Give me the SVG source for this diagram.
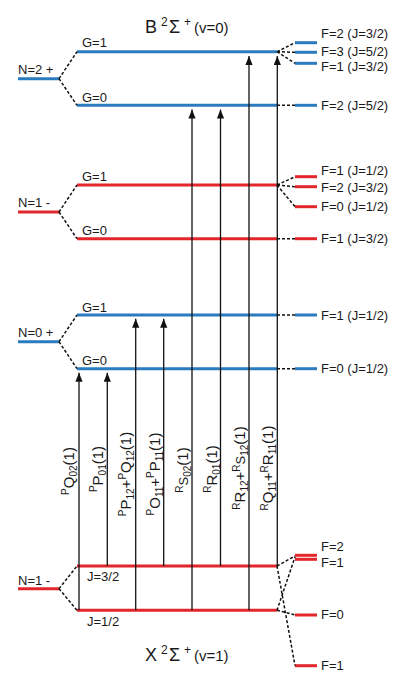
<svg xmlns="http://www.w3.org/2000/svg" width="415" height="686" viewBox="0 0 415 686">
<style>
text{font-family:"Liberation Sans",Arial,sans-serif;fill:#1a1a1a;}
.lb{font-size:13px;}
.tl{font-size:15px;}
.sm{font-size:10px;}
.blue{stroke:#2b7bbf;stroke-width:3;fill:none;}
.red{stroke:#e2262b;stroke-width:3;fill:none;}
.dash{stroke:#111;stroke-width:1.5;stroke-dasharray:3,2;fill:none;}
.arr{stroke:#111;stroke-width:1.3;fill:none;marker-end:url(#ah);}
</style>
<defs>
<marker id="ah" markerUnits="userSpaceOnUse" markerWidth="10" markerHeight="10" refX="9" refY="3.6" orient="auto">
<path d="M0,0 L9,3.6 L0,7.2 z" fill="#111"/>
</marker>
</defs>
<rect width="415" height="686" fill="#fff"/>

<!-- titles -->
<g id="title-B">
<text x="145" y="33.3" style="font-size:18px">B</text>
<text x="161" y="26" style="font-size:12px">2</text>
<text x="169" y="33.3" style="font-size:18px">Σ</text>
<text x="184" y="26" style="font-size:12px">+</text>
<text x="194" y="33.3" style="font-size:15px">(v=0)</text>
</g>
<g id="title-X">
<text x="145" y="661" style="font-size:18px">X</text>
<text x="161" y="653.7" style="font-size:12px">2</text>
<text x="169" y="661" style="font-size:18px">Σ</text>
<text x="184" y="653.7" style="font-size:12px">+</text>
<text x="194" y="661" style="font-size:15px">(v=1)</text>
</g>

<!-- B state N=2 + -->
<g id="N2">
<line class="blue" x1="18" y1="78.7" x2="59" y2="78.7"/>
<text class="lb" x="18" y="74">N=2 +</text>
</g>
<g id="N2G1">
<line class="blue" x1="77" y1="51.7" x2="277" y2="51.7"/>
<text class="lb" x="82" y="47">G=1</text>
</g>
<g id="N2G0">
<line class="blue" x1="77" y1="105.3" x2="277" y2="105.3"/>
<text class="lb" x="82" y="101.5">G=0</text>
</g>
<g id="N2F2a"><line class="blue" x1="295" y1="42.7" x2="317" y2="42.7"/><text class="lb" x="321" y="37.7">F=2 (J=3/2)</text></g>
<g id="N2F3"><line class="blue" x1="295" y1="52.3" x2="317" y2="52.3"/><text class="lb" x="321" y="55.5">F=3 (J=5/2)</text></g>
<g id="N2F1"><line class="blue" x1="295" y1="63.3" x2="317" y2="63.3"/><text class="lb" x="321" y="70.5">F=1 (J=3/2)</text></g>
<g id="N2F2b"><line class="blue" x1="295" y1="105.3" x2="317" y2="105.3"/><text class="lb" x="321" y="109.5">F=2 (J=5/2)</text></g>

<!-- B state N=1 - -->
<g id="N1u">
<line class="red" x1="18" y1="212" x2="59" y2="212"/>
<text class="lb" x="18" y="207">N=1 -</text>
</g>
<g id="N1G1">
<line class="red" x1="77" y1="185" x2="277" y2="185"/>
<text class="lb" x="82" y="181">G=1</text>
</g>
<g id="N1G0">
<line class="red" x1="77" y1="238.7" x2="277" y2="238.7"/>
<text class="lb" x="82" y="235">G=0</text>
</g>
<g id="N1F1a"><line class="red" x1="295" y1="176.7" x2="317" y2="176.7"/><text class="lb" x="321" y="175">F=1 (J=1/2)</text></g>
<g id="N1F2"><line class="red" x1="295" y1="186.7" x2="317" y2="186.7"/><text class="lb" x="321" y="191.5">F=2 (J=3/2)</text></g>
<g id="N1F0"><line class="red" x1="295" y1="206.7" x2="317" y2="206.7"/><text class="lb" x="321" y="210.5">F=0 (J=1/2)</text></g>
<g id="N1F1b"><line class="red" x1="295" y1="238.7" x2="317" y2="238.7"/><text class="lb" x="321" y="242.5">F=1 (J=3/2)</text></g>

<!-- B state N=0 + -->
<g id="N0">
<line class="blue" x1="18" y1="341.7" x2="59" y2="341.7"/>
<text class="lb" x="18" y="337">N=0 +</text>
</g>
<g id="N0G1">
<line class="blue" x1="77" y1="315" x2="277" y2="315"/>
<text class="lb" x="82" y="311.5">G=1</text>
</g>
<g id="N0G0">
<line class="blue" x1="77" y1="368.7" x2="277" y2="368.7"/>
<text class="lb" x="82" y="365">G=0</text>
</g>
<g id="N0F1"><line class="blue" x1="295" y1="315" x2="317" y2="315"/><text class="lb" x="321" y="319.5">F=1 (J=1/2)</text></g>
<g id="N0F0"><line class="blue" x1="295" y1="368.7" x2="317" y2="368.7"/><text class="lb" x="321" y="373">F=0 (J=1/2)</text></g>

<!-- X state N=1 - -->
<g id="XN1">
<line class="red" x1="18" y1="588.7" x2="59" y2="588.7"/>
<text class="lb" x="18" y="585">N=1 -</text>
</g>
<g id="XJ32">
<line class="red" x1="77" y1="566" x2="277" y2="566"/>
<text class="lb" x="87" y="581">J=3/2</text>
</g>
<g id="XJ12">
<line class="red" x1="77" y1="610.3" x2="277" y2="610.3"/>
<text class="lb" x="87" y="626">J=1/2</text>
</g>
<g id="XF2"><line class="red" x1="295" y1="555.3" x2="317" y2="555.3"/><text class="lb" x="321" y="550.7">F=2</text></g>
<g id="XF1a"><line class="red" x1="295" y1="559.3" x2="317" y2="559.3"/><text class="lb" x="321" y="567.3">F=1</text></g>
<g id="XF0"><line class="red" x1="295" y1="615" x2="317" y2="615"/><text class="lb" x="321" y="619">F=0</text></g>
<g id="XF1b"><line class="red" x1="295" y1="665.7" x2="317" y2="665.7"/><text class="lb" x="321" y="670">F=1</text></g>

<!-- connectors -->
<g id="connectors">
<path class="dash" d="M59,78.7 L77,51.7 M59,78.7 L77,105.3"/>
<path class="dash" d="M277,51.7 L295,42.7 M277,51.7 L295,52.3 M277,51.7 L295,63.3 M277,105.3 L295,105.3"/>
<path class="dash" d="M59,212 L77,185 M59,212 L77,238.7"/>
<path class="dash" d="M277,185 L295,176.7 M277,185 L295,186.7 M277,185 L295,206.7 M277,238.7 L295,238.7"/>
<path class="dash" d="M59,341.7 L77,315 M59,341.7 L77,368.7"/>
<path class="dash" d="M277,315 L295,315 M277,368.7 L295,368.7"/>
<path class="dash" d="M59,588.7 L77,566 M59,588.7 L77,610.3"/>
<path class="dash" d="M277,566 L295,556 M277,566 L295,665.7 M277,610.3 L295,557 M277,610.3 L295,615"/>

<line class="arr" x1="79" y1="610.3" x2="79" y2="372.7"/>
<line class="arr" x1="107.3" y1="566" x2="107.3" y2="372.7"/>
<line class="arr" x1="135.7" y1="610.3" x2="135.7" y2="318.7"/>
<line class="arr" x1="163.7" y1="566" x2="163.7" y2="318.7"/>
<line class="arr" x1="192" y1="610.3" x2="192" y2="109.5"/>
<line class="arr" x1="220.5" y1="566" x2="220.5" y2="109.5"/>
<line class="arr" x1="249" y1="610.3" x2="249" y2="56"/>
<line class="arr" x1="277.3" y1="566" x2="277.3" y2="56"/>

<text class="tl" text-anchor="middle" transform="translate(74,471) rotate(-90)"><tspan class="sm" dy="-5.5">P</tspan><tspan dy="5.5">Q</tspan><tspan class="sm" dy="3">02</tspan><tspan dy="-3">(1)</tspan></text>
<text class="tl" text-anchor="middle" transform="translate(102.5,469) rotate(-90)"><tspan class="sm" dy="-5.5">P</tspan><tspan dy="5.5">P</tspan><tspan class="sm" dy="3">01</tspan><tspan dy="-3">(1)</tspan></text>
<text class="tl" text-anchor="middle" transform="translate(131,474) rotate(-90)"><tspan class="sm" dy="-5.5">P</tspan><tspan dy="5.5">P</tspan><tspan class="sm" dy="3">12</tspan><tspan dy="-3">+</tspan><tspan class="sm" dy="-5.5">P</tspan><tspan dy="5.5">Q</tspan><tspan class="sm" dy="3">12</tspan><tspan dy="-3">(1)</tspan></text>
<text class="tl" text-anchor="middle" transform="translate(159.5,474) rotate(-90)"><tspan class="sm" dy="-5.5">P</tspan><tspan dy="5.5">O</tspan><tspan class="sm" dy="3">11</tspan><tspan dy="-3">+</tspan><tspan class="sm" dy="-5.5">P</tspan><tspan dy="5.5">P</tspan><tspan class="sm" dy="3">11</tspan><tspan dy="-3">(1)</tspan></text>
<text class="tl" text-anchor="middle" transform="translate(188,470) rotate(-90)"><tspan class="sm" dy="-5.5">R</tspan><tspan dy="5.5" style="font-size:13px">S</tspan><tspan class="sm" dy="3">02</tspan><tspan dy="-3">(1)</tspan></text>
<text class="tl" text-anchor="middle" transform="translate(216.5,469) rotate(-90)"><tspan class="sm" dy="-5.5">R</tspan><tspan dy="5.5">R</tspan><tspan class="sm" dy="3">01</tspan><tspan dy="-3">(1)</tspan></text>
<text class="tl" text-anchor="middle" transform="translate(245,468) rotate(-90)"><tspan class="sm" dy="-5.5">R</tspan><tspan dy="5.5">R</tspan><tspan class="sm" dy="3">12</tspan><tspan dy="-3">+</tspan><tspan class="sm" dy="-5.5">R</tspan><tspan dy="5.5" style="font-size:13px">S</tspan><tspan class="sm" dy="3">12</tspan><tspan dy="-3">(1)</tspan></text>
<text class="tl" text-anchor="middle" transform="translate(273,468) rotate(-90)"><tspan class="sm" dy="-5.5">R</tspan><tspan dy="5.5">Q</tspan><tspan class="sm" dy="3">11</tspan><tspan dy="-3">+</tspan><tspan class="sm" dy="-5.5">R</tspan><tspan dy="5.5">R</tspan><tspan class="sm" dy="3">11</tspan><tspan dy="-3">(1)</tspan></text>
</g>
</svg>
